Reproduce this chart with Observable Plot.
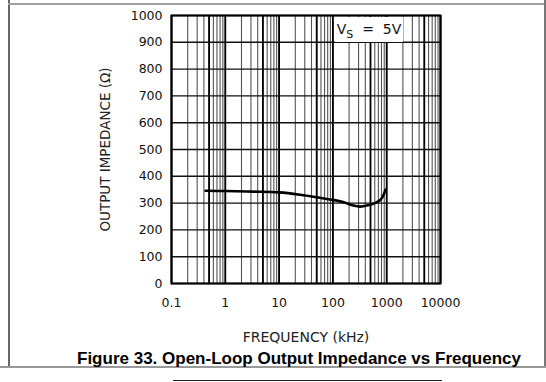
<!DOCTYPE html>
<html>
<head>
<meta charset="utf-8">
<script src="https://cdn.jsdelivr.net/npm/d3@7"></script>
<script src="https://cdn.jsdelivr.net/npm/@observablehq/plot@0.6"></script>
<style>
  html, body { margin: 0; padding: 0; background: #fff; }
  #wrap { position: relative; width: 546px; height: 382px; overflow: hidden; background: #fff; }
  #chart { position: absolute; left: 0; top: 0; }
  .deco { position: absolute; }
  #legend { position: absolute; left: 335px; top: 17px; width: 68px; height: 25px; background: #fff;
    font-family: "DejaVu Sans", sans-serif; font-size: 14px; color: #111; white-space: pre;
    line-height: 25px; text-align: center; }
  #legend sub { font-size: 11px; vertical-align: -4px; }
  #caption { position: absolute; left: 0; width: 598px; top: 349px; text-align: center;
    font-family: "Liberation Sans", Arial, sans-serif; font-weight: bold; font-size: 17px; color: #000; }
</style>
</head>
<body>
<div id="wrap">
  <div id="chart"></div>
  <div class="deco" style="left:8px;top:0;width:1.5px;height:367px;background:#666"></div>
  <div class="deco" style="left:8px;top:3px;width:538px;height:2px;background:#a0a0a0"></div>
  <div class="deco" style="left:544px;top:0;width:1.5px;height:367px;background:#777"></div>
  <div class="deco" style="left:0;top:366px;width:546px;height:2px;background:#999"></div>
  <div class="deco" style="left:173px;top:380px;width:269px;height:1px;background:#222"></div>
  <div id="legend">V<sub>S</sub>  =  5V</div>
  <div id="caption">Figure 33. Open-Loop Output Impedance vs Frequency</div>
</div>
<script>
// Data
const frequencyKHz = [0.43, 1, 3, 10, 25, 60, 100, 160, 240, 320, 450, 600, 750, 850, 950];
const impedanceOhm = [346, 345, 343, 340, 331, 319, 312, 303, 291, 287, 292, 300, 311, 325, 350];
const xTicks = [0.1, 1, 10, 100, 1000, 10000];
const xBoldGrid = [0.1, 0.5, 1, 5, 10, 50, 100, 500, 1000, 5000, 10000];
const yTicks = [0, 100, 200, 300, 400, 500, 600, 700, 800, 900, 1000];
const xDomain = [0.1, 10000];
const yDomain = [0, 1000];

const curve = frequencyKHz.map((f, i) => ({f, z: impedanceOhm[i]}));
const minorGrid = d3.scaleLog().domain(xDomain).ticks();

const chart = Plot.plot({
  width: 546,
  height: 350,
  marginLeft: 171,
  marginRight: 106,
  marginTop: 15,
  marginBottom: 67,
  style: {fontFamily: "DejaVu Sans, sans-serif", fontSize: "12.5px", color: "#111", background: "transparent"},
  x: {type: "log", domain: xDomain, ticks: xTicks, tickFormat: d => String(d)},
  y: {domain: yDomain, ticks: yTicks, tickFormat: d => String(d)},
  marks: [
    Plot.ruleX(minorGrid, {stroke: "#555", strokeWidth: 1.1}),
    Plot.ruleX(xBoldGrid, {stroke: "#000", strokeWidth: 1.8}),
    Plot.ruleY(yTicks, {stroke: "#111", strokeWidth: 1.4}),
    Plot.frame({stroke: "#000", strokeWidth: 2}),
    Plot.axisX({ticks: xTicks, tickSize: 0, tickPadding: 15, label: null, tickFormat: d => String(d)}),
    Plot.axisY({ticks: yTicks, tickSize: 0, tickPadding: 9, label: null, tickFormat: d => String(d)}),
    Plot.line(curve, {x: "f", y: "z", stroke: "#000", strokeWidth: 2.6, curve: "catmull-rom"}),
    Plot.text(["FREQUENCY (kHz)"], {frameAnchor: "bottom", dy: 54, lineAnchor: "middle", fontSize: 14, fill: "#222", textAnchor: "middle"}),
    Plot.text(["OUTPUT IMPEDANCE (\u03A9)"], {frameAnchor: "left", dx: -66, rotate: -90, fontSize: 13.5, fill: "#222", textAnchor: "middle"})
  ]
});
document.getElementById("chart").appendChild(chart);
</script>
</body>
</html>
